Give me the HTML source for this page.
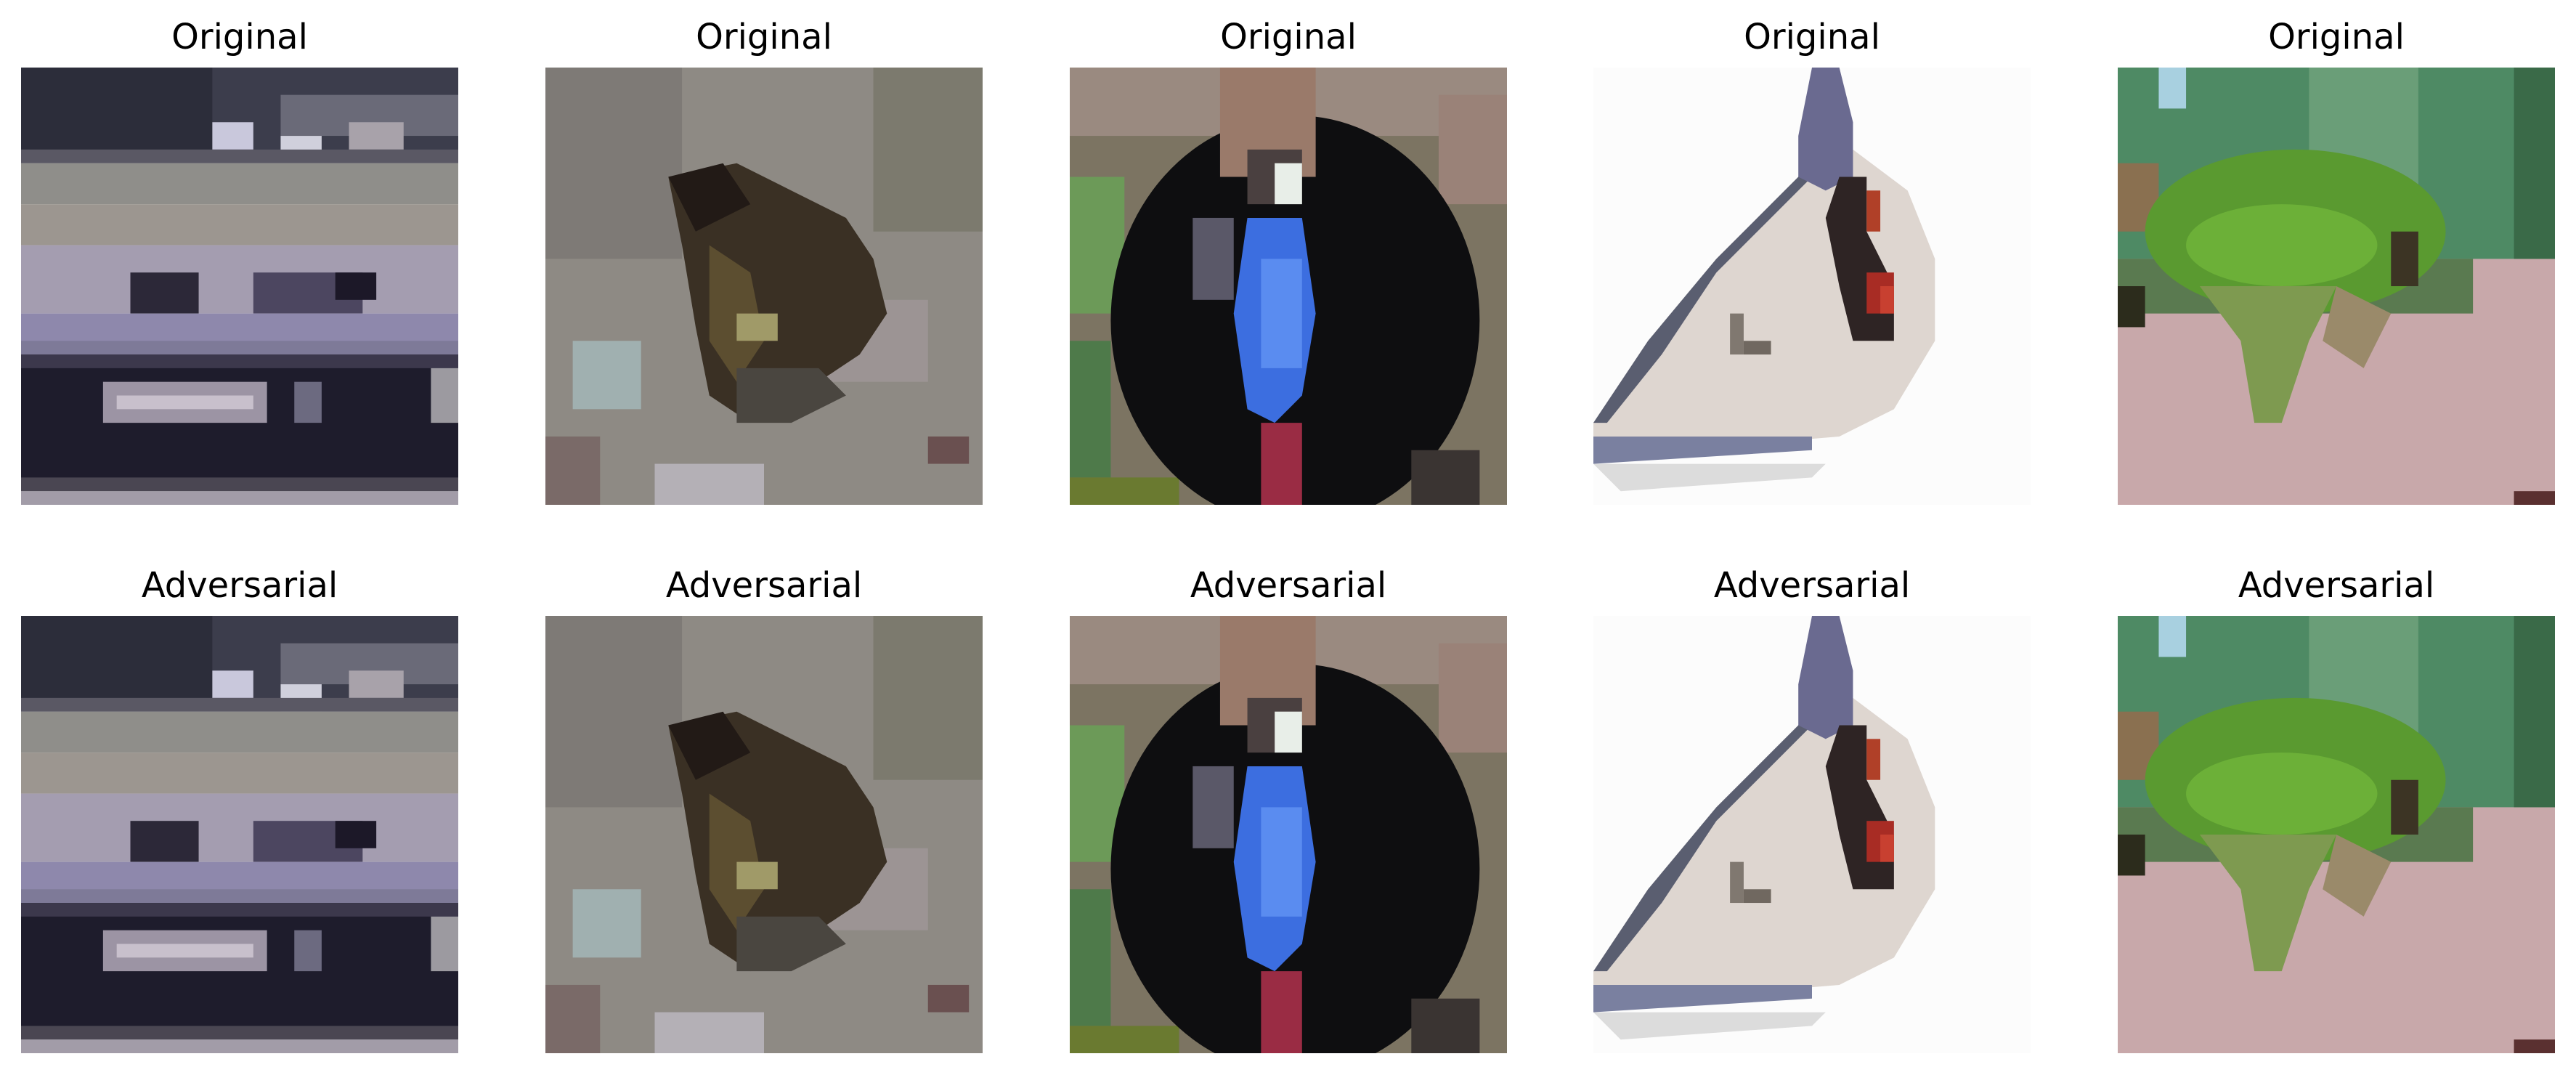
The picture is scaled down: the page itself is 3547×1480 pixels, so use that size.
<!DOCTYPE html>
<html><head><meta charset="utf-8"><style>
html,body{margin:0;padding:0;background:#fff;width:3547px;height:1480px;overflow:hidden}
text{font-family:"DejaVu Sans","Liberation Sans",sans-serif;font-size:48px;fill:#000}
</style></head><body>
<svg width="3547" height="1480" viewBox="0 0 3547 1480">
<defs>
<clipPath id="cp"><rect x="0" y="0" width="32" height="32"/></clipPath>
<g id="img1" clip-path="url(#cp)">
<rect x="0" y="0" width="32" height="7" fill="#3c3d4c"/>
<rect x="0" y="0" width="14" height="6" fill="#2c2d3a"/>
<rect x="19" y="2" width="13" height="3" fill="#6a6a78"/>
<rect x="14" y="4" width="3" height="2" fill="#c9c8dc"/>
<rect x="19" y="5" width="3" height="2" fill="#d0d0dc"/>
<rect x="24" y="4" width="4" height="2" fill="#a8a2aa"/>
<rect x="0" y="6" width="32" height="1" fill="#5a5864"/>
<rect x="0" y="7" width="32" height="3" fill="#8f8e8a"/>
<rect x="0" y="10" width="32" height="3" fill="#9c9690"/>
<rect x="0" y="13" width="32" height="5" fill="#a49db0"/>
<rect x="8" y="15" width="5" height="3" fill="#2c2838"/>
<rect x="17" y="15" width="8" height="3" fill="#4c4660"/>
<rect x="23" y="15" width="3" height="2" fill="#1c1828"/>
<rect x="0" y="18" width="32" height="3" fill="#8e88ac"/>
<rect x="0" y="20" width="32" height="1" fill="#7e7a98"/>
<rect x="0" y="21" width="32" height="10" fill="#1e1c2c"/>
<rect x="0" y="21" width="32" height="1" fill="#3c384c"/>
<rect x="6" y="23" width="12" height="3" fill="#9c94a4"/>
<rect x="7" y="24" width="10" height="1" fill="#c8c0cc"/>
<rect x="20" y="23" width="2" height="3" fill="#6c6a80"/>
<rect x="30" y="22" width="2" height="4" fill="#9c9aa0"/>
<rect x="0" y="30" width="32" height="1" fill="#4a4652"/>
<rect x="0" y="31" width="32" height="1" fill="#a29ca8"/>
</g>
<g id="img2" clip-path="url(#cp)">
<rect x="0" y="0" width="32" height="32" fill="#8e8a84"/>
<rect x="0" y="0" width="10" height="14" fill="#7e7a76"/>
<rect x="24" y="0" width="8" height="12" fill="#7c7a6e"/>
<rect x="2" y="20" width="5" height="5" fill="#a0b0b0"/>
<rect x="20" y="17" width="8" height="6" fill="#9c9494"/>
<rect x="8" y="29" width="8" height="3" fill="#b4b0b6"/>
<rect x="0" y="27" width="4" height="5" fill="#7a6a68"/>
<rect x="28" y="27" width="3" height="2" fill="#6a5050"/>
<polygon points="9,8 14,7 18,9 22,11 24,14 25,18 23,21 20,23 15,26 12,24 11,19 10,13" fill="#3a3024"/>
<polygon points="9,8 13,7 15,10 11,12" fill="#221a16"/>
<polygon points="12,13 15,15 16,20 14,23 12,20" fill="#5c4e30"/>
<rect x="14" y="18" width="3" height="2" fill="#a09a68"/>
<polygon points="14,22 20,22 22,24 18,26 14,26" fill="#4a4640"/>
</g>
<g id="img3" clip-path="url(#cp)">
<rect x="0" y="0" width="32" height="32" fill="#7c7462"/>
<rect x="0" y="0" width="32" height="5" fill="#9a8a80"/>
<rect x="0" y="8" width="4" height="10" fill="#6c9a58"/>
<rect x="0" y="20" width="3" height="10" fill="#4e7a4a"/>
<rect x="0" y="30" width="8" height="2" fill="#6a7a30"/>
<rect x="27" y="2" width="5" height="8" fill="#9a8278"/>
<ellipse cx="16.5" cy="18.5" rx="13.5" ry="15" fill="#0e0e10"/>
<rect x="11" y="0" width="7" height="8" fill="#9a7a6a"/>
<rect x="13" y="6" width="4" height="4" fill="#4a4040"/>
<rect x="15" y="7" width="2" height="3" fill="#e8eee8"/>
<polygon points="13,11 17,11 18,18 17,24 15,26 13,25 12,18" fill="#3c6ee0"/>
<rect x="14" y="14" width="3" height="8" fill="#5a8cf0"/>
<rect x="9" y="11" width="3" height="6" fill="#5a5868"/>
<rect x="14" y="26" width="3" height="6" fill="#9a2c44"/>
<rect x="25" y="28" width="5" height="4" fill="#3a3432"/>
</g>
<g id="img4" clip-path="url(#cp)">
<rect x="0" y="0" width="32" height="32" fill="#fcfcfc"/>
<polygon points="0,26 4,20 9,14 13,10 16,7 19,6 23,9 25,14 25,20 22,25 18,27 6,28 0,28" fill="#ded6d0"/>
<polygon points="0,26 4,20 9,14 13,10 16,7 16,8 13,11 9,15 5,21 1,26" fill="#5a5e70"/>
<polygon points="0,27 16,27 16,28 0,29" fill="#7a80a0"/>
<polygon points="0,29 17,29 16,30 2,31" fill="#dcdcdc"/>
<polygon points="16,0 18,0 19,4 19,8 17,9 15,8 15,5" fill="#6a6a90"/>
<polygon points="18,8 20,8 20,12 22,16 22,20 19,20 18,16 17,11" fill="#2e2424"/>
<rect x="20" y="9" width="1" height="3" fill="#b04028"/>
<rect x="20" y="15" width="2" height="3" fill="#a82c24"/>
<rect x="21" y="16" width="1" height="2" fill="#c84030"/>
<rect x="10" y="18" width="1" height="3" fill="#807870"/>
<rect x="11" y="20" width="2" height="1" fill="#706860"/>
</g>
<g id="img5" clip-path="url(#cp)">
<rect x="0" y="0" width="32" height="32" fill="#c8a8aa"/>
<rect x="0" y="0" width="32" height="14" fill="#4e8a64"/>
<rect x="0" y="14" width="26" height="4" fill="#5a7a50"/>
<rect x="14" y="0" width="8" height="10" fill="#6a9e78"/>
<rect x="3" y="0" width="2" height="3" fill="#a8d0e0"/>
<rect x="29" y="0" width="3" height="14" fill="#3a6a48"/>
<rect x="0" y="7" width="3" height="5" fill="#8a7050"/>
<ellipse cx="13" cy="12" rx="11" ry="6" fill="#5a9a30"/>
<ellipse cx="12" cy="13" rx="7" ry="3" fill="#6cb038"/>
<polygon points="6,16 16,16 14,20 12,26 10,26 9,20" fill="#7e9a50"/>
<polygon points="16,16 20,18 18,22 15,20" fill="#9a8a6a"/>
<rect x="20" y="12" width="2" height="4" fill="#3c3424"/>
<rect x="0" y="16" width="2" height="3" fill="#2c2c1c"/>
<rect x="29" y="31" width="3" height="1" fill="#5a3030"/>
</g>
</defs>
<g>
<text x="330" y="67" text-anchor="middle">Original</text>
<text x="1052" y="67" text-anchor="middle">Original</text>
<text x="1774" y="67" text-anchor="middle">Original</text>
<text x="2495" y="67" text-anchor="middle">Original</text>
<text x="3217" y="67" text-anchor="middle">Original</text>
<use href="#img1" transform="translate(29,93) scale(18.8125)"/>
<use href="#img2" transform="translate(751,93) scale(18.8125)"/>
<use href="#img3" transform="translate(1473,93) scale(18.8125)"/>
<use href="#img4" transform="translate(2194,93) scale(18.8125)"/>
<use href="#img5" transform="translate(2916,93) scale(18.8125)"/>
</g>
<g>
<text x="330" y="822" text-anchor="middle">Adversarial</text>
<text x="1052" y="822" text-anchor="middle">Adversarial</text>
<text x="1774" y="822" text-anchor="middle">Adversarial</text>
<text x="2495" y="822" text-anchor="middle">Adversarial</text>
<text x="3217" y="822" text-anchor="middle">Adversarial</text>
<use href="#img1" transform="translate(29,848) scale(18.8125)"/>
<use href="#img2" transform="translate(751,848) scale(18.8125)"/>
<use href="#img3" transform="translate(1473,848) scale(18.8125)"/>
<use href="#img4" transform="translate(2194,848) scale(18.8125)"/>
<use href="#img5" transform="translate(2916,848) scale(18.8125)"/>
</g>
</svg>
</body></html>
